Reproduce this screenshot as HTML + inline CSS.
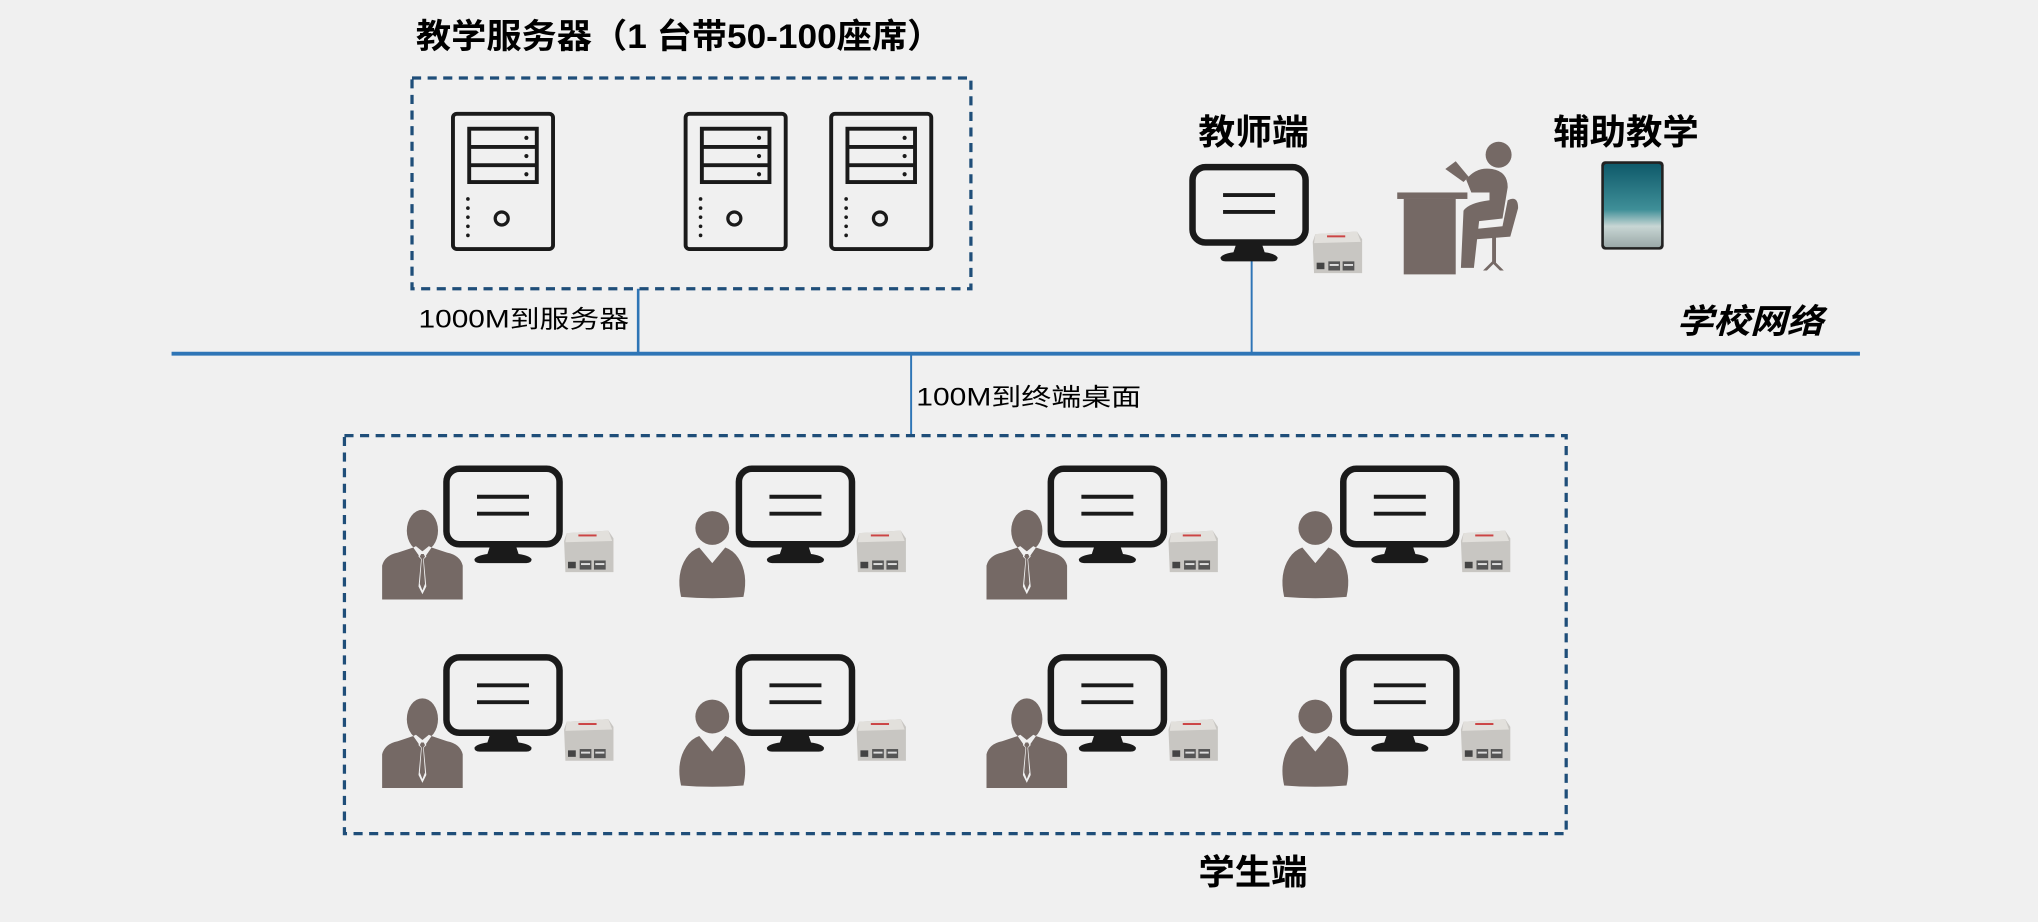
<!DOCTYPE html>
<html><head><meta charset="utf-8"><style>
html,body{margin:0;padding:0;background:#f0f0f0;width:2038px;height:922px;overflow:hidden}
svg{display:block}
text{font-family:"Liberation Sans","Noto Sans CJK SC",sans-serif;fill:#000}
</style></head><body>
<svg width="2038" height="922" viewBox="0 0 1568 709" preserveAspectRatio="none" xmlns="http://www.w3.org/2000/svg">
<defs>
<g id="mon">
 <rect x="2.5" y="2.5" width="87" height="58" rx="10" fill="#f0f0f0" stroke="#1a1a1a" stroke-width="5"/>
 <line x1="26" y1="24" x2="66" y2="24" stroke="#1a1a1a" stroke-width="3"/>
 <line x1="26" y1="37" x2="66" y2="37" stroke="#1a1a1a" stroke-width="3"/>
 <path d="M36 62 L56 62 L58 68 Q66 69 68 72 Q68 75 64 75 L28 75 Q24 75 24 72 Q26 69 34 68 Z" fill="#1a1a1a"/>
</g>
<g id="box">
 <path d="M3 4 L35 2 L39 8 L39 34 L2 34 L1 10 Z" fill="#c8c6c2"/>
 <path d="M3 4 L35 2 L38 10 L2 11 Z" fill="#e2e0dc"/>
 <rect x="12" y="5" width="14" height="1.5" fill="#c44"/>
 <rect x="4" y="26" width="6" height="5" fill="#444"/>
 <rect x="13" y="25" width="9" height="7" fill="#555"/>
 <rect x="24" y="25" width="9" height="7" fill="#555"/>
 <rect x="14" y="27" width="7" height="1.5" fill="#ddd"/>
 <rect x="25" y="27" width="7" height="1.5" fill="#ddd"/>
</g>
<g id="pa">
 <ellipse cx="31" cy="17" rx="12" ry="16" fill="#756965"/>
 <path d="M0 70 L0 44 Q2 36 12 34 L24 30 L31 40 L38 30 L50 34 Q60 36 62 44 L62 70 Z" fill="#756965"/>
 <path d="M24 30 L31 40 L38 30 L36 29 L31 33 L26 29 Z" fill="#f0f0f0"/>
 <path d="M29 33 L33 33 L34 37 L32 39 L34 60 L31 66 L28 60 L30 39 L28 37 Z" fill="#f0f0f0"/>
 <path d="M30 35 L32 35 L33 37 L31.5 39 L33 58 L31 63 L29 58 L30.5 39 L29 37 Z" fill="#756965"/>
</g>
<g id="pb">
 <circle cx="26" cy="15" r="13" fill="#756965"/>
 <path d="M2 68 Q-2 50 6 38 Q10 32 16 30 L26 42 L36 30 Q42 32 46 38 Q54 50 50 68 Q26 70 2 68 Z" fill="#756965"/>
</g>
<g id="srv">
 <rect x="1.5" y="1.5" width="77" height="104" rx="3" fill="#f0f0f0" stroke="#1a1a1a" stroke-width="3"/>
 <rect x="14" y="13" width="52" height="41" fill="none" stroke="#1a1a1a" stroke-width="3"/>
 <line x1="14" y1="27" x2="66" y2="27" stroke="#1a1a1a" stroke-width="3"/>
 <line x1="14" y1="41" x2="66" y2="41" stroke="#1a1a1a" stroke-width="3"/>
 <circle cx="58" cy="20" r="1.6" fill="#1a1a1a"/><circle cx="58" cy="34" r="1.6" fill="#1a1a1a"/><circle cx="58" cy="48" r="1.6" fill="#1a1a1a"/>
 <circle cx="13" cy="67" r="1.4" fill="#1a1a1a"/><circle cx="13" cy="74" r="1.4" fill="#1a1a1a"/><circle cx="13" cy="81" r="1.4" fill="#1a1a1a"/><circle cx="13" cy="88" r="1.4" fill="#1a1a1a"/><circle cx="13" cy="95" r="1.4" fill="#1a1a1a"/>
 <circle cx="39" cy="82" r="5" fill="none" stroke="#1a1a1a" stroke-width="2.5"/>
</g>
</defs>

<text x="320" y="37" font-size="26" font-weight="bold" textLength="405" lengthAdjust="spacingAndGlyphs">教学服务器（1 台带50-100座席）</text>
<rect x="317" y="60" width="430" height="162" fill="none" stroke="#1f4e79" stroke-width="2.5" stroke-dasharray="7,5"/>
<use href="#srv" x="347" y="86"/>
<use href="#srv" x="526" y="86"/>
<use href="#srv" x="638" y="86"/>

<line x1="132" y1="272" x2="1431" y2="272" stroke="#2e75b6" stroke-width="3"/>
<line x1="491" y1="222" x2="491" y2="272" stroke="#2e75b6" stroke-width="2"/>
<line x1="701" y1="272" x2="701" y2="335" stroke="#2e75b6" stroke-width="1.5"/>
<line x1="963" y1="198" x2="963" y2="272" stroke="#2e75b6" stroke-width="1.5"/>
<text x="322" y="252" font-size="19" textLength="162" lengthAdjust="spacingAndGlyphs">1000M到服务器</text>
<text x="705" y="312" font-size="19" textLength="173" lengthAdjust="spacingAndGlyphs">100M到终端桌面</text>
<text x="1290" y="256" font-size="26" font-weight="bold" font-style="italic" textLength="113" lengthAdjust="spacingAndGlyphs">学校网络</text>

<text x="922" y="111" font-size="27" font-weight="bold" textLength="85" lengthAdjust="spacingAndGlyphs">教师端</text>
<use href="#mon" x="915" y="126"/>
<use href="#box" x="1009" y="176"/>
<g fill="#756965">
 <rect x="1075" y="148" width="54" height="5"/>
 <rect x="1080" y="153" width="40" height="58"/>
 <circle cx="1153" cy="119" r="10"/>
 <path d="M1112 130 L1120 124 L1130 136 L1126 140 Z"/>
 <path d="M1128 138 Q1136 128 1148 130 Q1160 132 1160 144 L1156 168 L1138 170 L1134 206 L1124 206 L1126 162 Q1130 156 1146 154 L1146 148 L1132 148 Z"/>
 <path d="M1160 154 Q1168 150 1168 160 L1162 182 L1136 184 L1136 176 L1156 174 Z"/>
 <rect x="1148" y="182" width="3" height="20"/>
 <path d="M1141 208 L1149 200 L1157 208 L1154 208 L1149 203 L1144 208 Z"/>
</g>
<text x="1195" y="111" font-size="27" font-weight="bold" textLength="112" lengthAdjust="spacingAndGlyphs">辅助教学</text>
<defs><linearGradient id="ip" x1="0" y1="0" x2="0" y2="1"><stop offset="0" stop-color="#0f5a6a"/><stop offset="0.55" stop-color="#3f8f98"/><stop offset="0.75" stop-color="#c8d6d4"/><stop offset="1" stop-color="#9aa8a8"/></linearGradient></defs>
<rect x="1232" y="124" width="48" height="68" rx="3" fill="#222"/>
<rect x="1234" y="126" width="44" height="64" rx="2" fill="url(#ip)"/>

<rect x="265" y="335" width="940" height="306" fill="none" stroke="#1f4e79" stroke-width="2.5" stroke-dasharray="7,5"/>
<g>
 <use href="#mon" x="341" y="358"/><use href="#box" x="433" y="406"/><use href="#pa" x="294" y="391"/>
 <use href="#mon" x="566" y="358"/><use href="#box" x="658" y="406"/><use href="#pb" x="522" y="391"/>
 <use href="#mon" x="806" y="358"/><use href="#box" x="898" y="406"/><use href="#pa" x="759" y="391"/>
 <use href="#mon" x="1031" y="358"/><use href="#box" x="1123" y="406"/><use href="#pb" x="986" y="391"/>
 <use href="#mon" x="341" y="503"/><use href="#box" x="433" y="551"/><use href="#pa" x="294" y="536"/>
 <use href="#mon" x="566" y="503"/><use href="#box" x="658" y="551"/><use href="#pb" x="522" y="536"/>
 <use href="#mon" x="806" y="503"/><use href="#box" x="898" y="551"/><use href="#pa" x="759" y="536"/>
 <use href="#mon" x="1031" y="503"/><use href="#box" x="1123" y="551"/><use href="#pb" x="986" y="536"/>
</g>
<text x="922" y="680" font-size="27" font-weight="bold" textLength="84" lengthAdjust="spacingAndGlyphs">学生端</text>
</svg>
</body></html>
